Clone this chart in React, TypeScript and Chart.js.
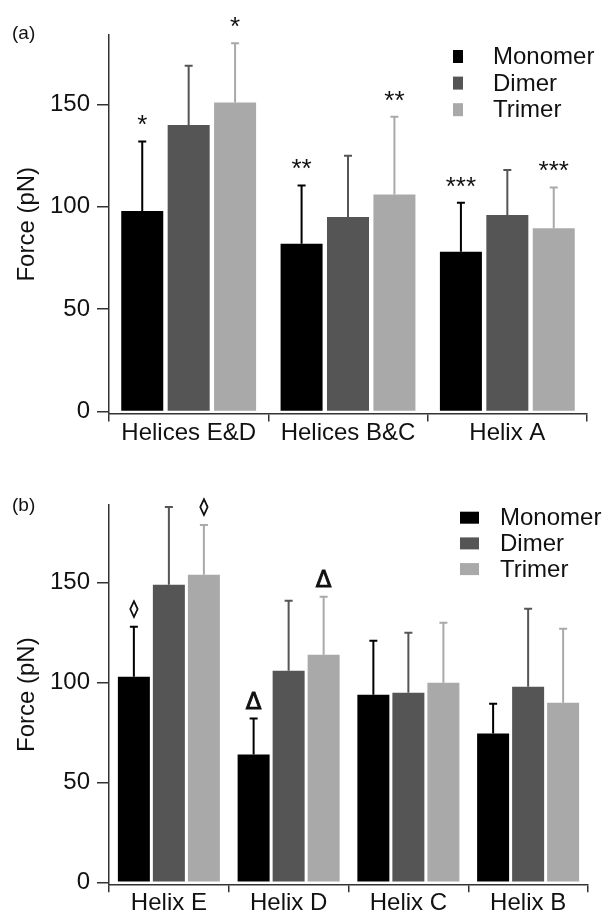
import React, { useEffect, useRef } from "react";
import { Chart, registerables } from "chart.js";

Chart.register(...registerables);

// ---------- data ----------
const seriesNames = ["Monomer", "Dimer", "Trimer"];
const seriesColors = ["#000000", "#555555", "#a9a9a9"];
const yTickValues = [0, 50, 100, 150];

// Panel (a)
const categoriesA = ["Helices E&D", "Helices B&C", "Helix A"];
const monomerA = [98, 82, 78];
const monomerErrA = [34, 28.5, 24];
const dimerA = [140, 95, 96];
const dimerErrA = [29, 30, 22];
const trimerA = [151, 106, 89.5];
const trimerErrA = [29, 38, 20];
const monomerSigA = ["*", "**", "***"];
const dimerSigA = ["", "", ""];
const trimerSigA = ["*", "**", "***"];

// Panel (b)
const categoriesB = ["Helix E", "Helix D", "Helix C", "Helix B"];
const monomerB = [103, 64, 94, 74.5];
const monomerErrB = [25, 18, 27, 15];
const dimerB = [149, 106, 95, 98];
const dimerErrB = [39, 35, 30, 39];
const trimerB = [154, 114, 100, 90];
const trimerErrB = [25, 29, 30, 37];
const monomerSigB = ["\u25CA", "\u0394", "", ""];
const dimerSigB = ["", "", "", ""];
const trimerSigB = ["\u25CA", "\u0394", "", ""];

const FONT = "'Liberation Sans', Arial, sans-serif";
const SYMBOL_FONTS: Record<string, string> = {
  "*": `26px ${FONT}`,
  "**": `26px ${FONT}`,
  "***": `26px ${FONT}`,
  "\u25CA": `17px 'DejaVu Sans', sans-serif`,
  "\u0394": `23px 'DejaVu Sans', sans-serif`,
};

type Panel = {
  label: string;
  categories: string[];
  values: number[][];
  errors: number[][];
  sig: string[][];
  height: number;
  top: number;
  bottom: number;
  left: number;
  right: number;
  yMax: number;
  barPct: number;
  catPct: number;
  sigStroke: number;
  sigOffset: number;
  legendSqX: number;
  legendSqW: number;
  legendSqH: number;
  legendTextX: number;
  legendY0: number;
  legendDy: number;
  labelBaseline: number;
};

const panelA: Panel = {
  label: "(a)",
  categories: categoriesA,
  values: [monomerA, dimerA, trimerA],
  errors: [monomerErrA, dimerErrA, trimerErrA],
  sig: [monomerSigA, dimerSigA, trimerSigA],
  height: 455,
  top: 35,
  bottom: 413.5,
  left: 109,
  right: 587,
  yMax: 184,
  barPct: 0.905,
  catPct: 0.874,
  sigStroke: 0,
  sigOffset: 21,
  legendSqX: 453,
  legendSqW: 10,
  legendSqH: 13,
  legendTextX: 493,
  legendY0: 55.5,
  legendDy: 26.6,
  labelBaseline: 39,
};

const panelB: Panel = {
  label: "(b)",
  categories: categoriesB,
  values: [monomerB, dimerB, trimerB],
  errors: [monomerErrB, dimerErrB, trimerErrB],
  sig: [monomerSigB, dimerSigB, trimerSigB],
  height: 456,
  top: 50,
  bottom: 429.3,
  left: 109,
  right: 588,
  yMax: 189,
  barPct: 0.914,
  catPct: 0.877,
  sigStroke: 0.9,
  sigOffset: 18,
  legendSqX: 460,
  legendSqW: 19,
  legendSqH: 12,
  legendTextX: 500,
  legendY0: 61.7,
  legendDy: 25.7,
  labelBaseline: 55.5,
};

function drawCenteredText(ctx: CanvasRenderingContext2D, text: string, x: number, cy: number, stroke: number) {
  const m = ctx.measureText(text);
  const asc = m.actualBoundingBoxAscent;
  const desc = m.actualBoundingBoxDescent;
  ctx.textBaseline = "alphabetic";
  const by = cy + (asc - desc) / 2;
  ctx.fillText(text, x, by);
  if (stroke > 0) {
    ctx.lineWidth = stroke;
    ctx.strokeText(text, x, by);
  }
}

function buildConfig(p: Panel): any {
  const datasets = seriesNames.map((name, s) => ({
    label: name,
    data: p.values[s],
    backgroundColor: seriesColors[s],
    borderWidth: 0,
    barPercentage: p.barPct,
    categoryPercentage: p.catPct,
  }));

  const overlay = {
    id: "overlay",
    afterDatasetsDraw(chart: any) {
      const ctx: CanvasRenderingContext2D = chart.ctx;
      const yScale = chart.scales.y;
      ctx.save();
      seriesNames.forEach((_, s) => {
        const meta = chart.getDatasetMeta(s);
        meta.data.forEach((bar: any, i: number) => {
          const v = p.values[s][i];
          const e = p.errors[s][i];
          const yTop = yScale.getPixelForValue(v + e);
          const yBar = yScale.getPixelForValue(v);
          ctx.strokeStyle = seriesColors[s];
          ctx.lineWidth = 2;
          ctx.beginPath();
          ctx.moveTo(bar.x, yBar);
          ctx.lineTo(bar.x, yTop);
          ctx.moveTo(bar.x - 4, yTop);
          ctx.lineTo(bar.x + 4, yTop);
          ctx.stroke();
          const sym = p.sig[s][i];
          if (sym) {
            ctx.fillStyle = "#111";
            ctx.strokeStyle = "#111";
            ctx.font = SYMBOL_FONTS[sym] || `24px ${FONT}`;
            ctx.textAlign = "center";
            drawCenteredText(ctx, sym, bar.x, yTop - p.sigOffset, p.sigStroke);
          }
        });
      });
      ctx.restore();
    },
    afterDraw(chart: any) {
      const ctx: CanvasRenderingContext2D = chart.ctx;
      const area = chart.chartArea;
      ctx.save();
      seriesNames.forEach((name, s) => {
        const cy = p.legendY0 + s * p.legendDy;
        ctx.fillStyle = seriesColors[s];
        ctx.fillRect(p.legendSqX, cy - p.legendSqH / 2 + 1, p.legendSqW, p.legendSqH);
        ctx.fillStyle = "#111";
        ctx.font = `24px ${FONT}`;
        ctx.textAlign = "left";
        ctx.textBaseline = "alphabetic";
        ctx.fillText(name, p.legendTextX, cy + 0.358 * 24);
      });
      ctx.font = `19px ${FONT}`;
      ctx.fillStyle = "#111";
      ctx.textAlign = "left";
      ctx.textBaseline = "alphabetic";
      ctx.fillText(p.label, 12, p.labelBaseline);
      ctx.save();
      ctx.translate(34, (area.top + area.bottom) / 2);
      ctx.rotate(-Math.PI / 2);
      ctx.font = `24px ${FONT}`;
      ctx.textAlign = "center";
      ctx.textBaseline = "alphabetic";
      ctx.fillText("Force (pN)", 0, 0);
      ctx.restore();
      ctx.restore();
    },
  };

  return {
    type: "bar",
    data: { labels: p.categories, datasets },
    options: {
      animation: false,
      responsive: false,
      events: [],
      layout: { padding: { top: p.top, right: 605 - p.right, left: 0, bottom: 0 } },
      plugins: { legend: { display: false }, tooltip: { enabled: false }, title: { display: false } },
      scales: {
        x: {
          type: "category",
          grid: { offset: true, drawOnChartArea: false, drawTicks: true, tickLength: 8, color: "#333", lineWidth: 1.5 },
          border: { display: true, color: "#333", width: 1.5 },
          ticks: { color: "#111", font: { family: FONT, size: 24 }, padding: -3, maxRotation: 0, autoSkip: false },
          afterFit: (s: any) => {
            s.height = p.height - p.bottom;
          },
        },
        y: {
          type: "linear",
          min: -1,
          max: p.yMax,
          afterBuildTicks: (s: any) => {
            s.ticks = yTickValues.map((v) => ({ value: v }));
          },
          grid: { drawOnChartArea: false, drawTicks: true, tickLength: 12, color: "#333", lineWidth: 1.5 },
          border: { display: true, color: "#333", width: 1.5 },
          ticks: { color: "#111", font: { family: FONT, size: 24 }, padding: 7 },
          afterFit: (s: any) => {
            s.width = p.left;
          },
        },
      },
    },
    plugins: [overlay],
  };
}

function PanelChart({ panel }: { panel: Panel }) {
  const ref = useRef<HTMLCanvasElement | null>(null);
  useEffect(() => {
    if (!ref.current) return;
    const chart = new Chart(ref.current, buildConfig(panel));
    return () => chart.destroy();
  }, [panel]);
  return (
    <canvas
      ref={ref}
      width={605}
      height={panel.height}
      style={{ display: "block", width: 605, height: panel.height }}
    />
  );
}

export default function App() {
  return (
    <div style={{ position: "absolute", left: 0, top: 0, width: 605, height: 911, background: "#fff" }}>
      <PanelChart panel={panelA} />
      <PanelChart panel={panelB} />
    </div>
  );
}
